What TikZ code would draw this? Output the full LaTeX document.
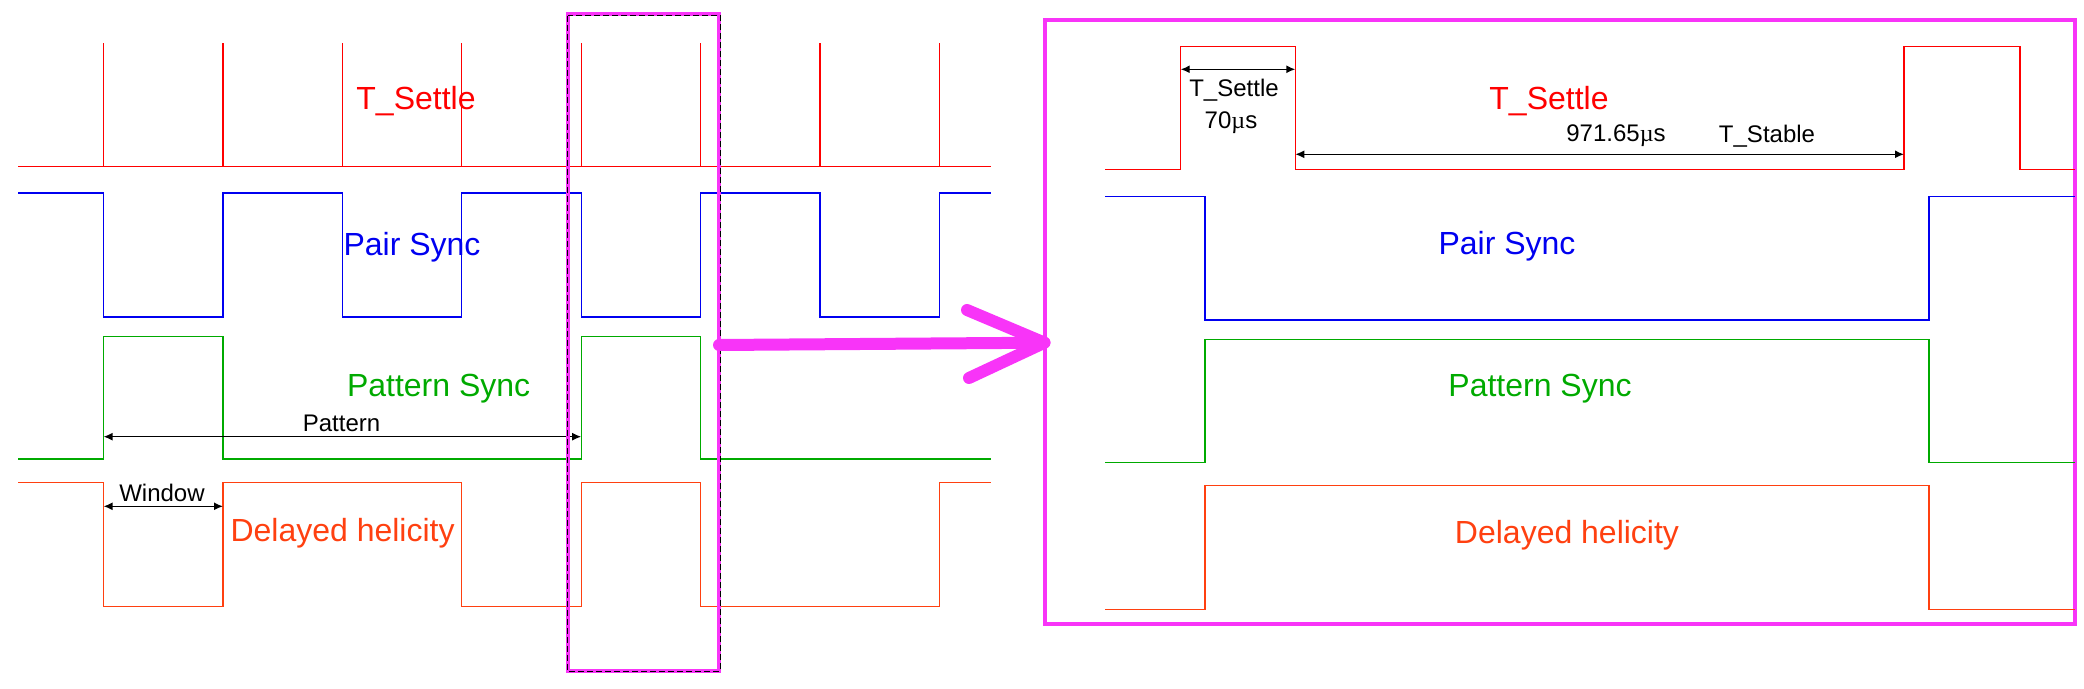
\documentclass[tikz,border=0pt]{standalone}
\usepackage{fontspec}
\setmainfont{Liberation Sans}
\newfontfamily\mufont{Liberation Serif}
\usetikzlibrary{arrows.meta}
\definecolor{sigred}{RGB}{255,0,0}
\definecolor{sigblue}{RGB}{0,0,240}
\definecolor{siggreen}{RGB}{0,170,0}
\definecolor{sigorange}{RGB}{255,64,16}
\definecolor{zoompink}{RGB}{248,52,248}
\begin{document}
\begin{tikzpicture}[x=0.5pt,y=-0.5pt,
  wave/.style={line width=0.6pt},
  biglabel/.style={font=\fontsize{16}{18}\selectfont, anchor=base, inner sep=0pt},
  smalllabel/.style={font=\fontsize{12}{14}\selectfont, anchor=base, inner sep=0pt},
  dim/.style={line width=0.7pt, {Latex[length=4.5pt,width=4pt]}-{Latex[length=4.5pt,width=4pt]}},
  pinkbox/.style={draw=zoompink, line width=2pt},
  selbox/.style={draw=black, line width=0.5pt, dash pattern=on 3pt off 1.5pt},
  bigarrow/.style={draw=zoompink, line width=6pt, line cap=round, line join=round}]
\useasboundingbox (0,0) rectangle (2084,689);

% ---------------- left panel ----------------
\draw[wave,sigred] (18,166.5) -- (991,166.5);
\foreach \x in {103.6,223,342.4,461.8,581.2,700.6,820,939.4}
  \draw[wave,sigred] (\x,166.5) -- (\x,43);
\draw[wave,sigblue] (18,193) -| (103.6,317) -| (223,193) -| (342.4,317) -| (461.8,193)
  -| (581.2,317) -| (700.6,193) -| (820,317) -| (939.4,193) -- (991,193);
\draw[wave,siggreen] (18,459) -| (103.6,336.5) -| (223,459) -| (581.2,336.5) -| (700.6,459) -- (991,459);
\draw[wave,sigorange] (18,482.5) -| (103.6,606.3) -| (223,482.5) -| (461.8,606.3) -| (581.2,482.5)
  -| (700.6,606.3) -| (939.4,482.5) -- (991,482.5);

\node[biglabel,text=sigred] (lts) at (416,110) {T\_Settle};
\node[biglabel,text=sigblue] (lps) at (412,256) {Pair Sync};
\node[biglabel,text=siggreen] (lpat) at (438.6,397) {Pattern Sync};
\node[biglabel,text=sigorange] (ldh) at (342.6,542) {Delayed helicity};

\coordinate (pa) at (103.6,436.7);
\coordinate (pb) at (581.2,436.7);
\draw[dim] (pa) -- (pb);
\node[smalllabel] (patlab) at (341.5,431.7) {Pattern};
\coordinate (wa) at (103.6,506.3);
\coordinate (wb) at (223,506.3);
\draw[dim] (wa) -- (wb);
\node[smalllabel] (winlab) at (162,501.7) {Window};

% selection box
\draw[pinkbox] (567.5,14.5) rectangle (719,671);
\draw[selbox] (567.7,15.7) rectangle (720.7,671);

% big pink arrow
\coordinate (zs) at (719,345);
\coordinate (zt) at (1044.5,342.7);
\coordinate (zb1) at (967,310);
\coordinate (zb2) at (969,378);
\draw[bigarrow] (zs) -- (zt);
\draw[bigarrow] (zb1) -- (zt) -- (zb2);

% ---------------- right panel ----------------
\draw[pinkbox] (1045,20) rectangle (2075,624);
\draw[wave,sigred] (1105,169.3) -| (1180.7,46.5) -| (1295.3,169.3) -| (1904,46.5) -| (2020,169.3) -- (2075,169.3);
\draw[wave,sigblue] (1105,196.7) -| (1205,320) -| (1929,196.7) -- (2075,196.7);
\draw[wave,siggreen] (1105,462.3) -| (1205,339.3) -| (1929,462.3) -- (2075,462.3);
\draw[wave,sigorange] (1105,609.3) -| (1205,485.3) -| (1929,609.3) -- (2075,609.3);

\node[biglabel,text=sigred] (rts) at (1549,110) {T\_Settle};
\node[biglabel,text=sigblue] (rps) at (1507,255) {Pair Sync};
\node[biglabel,text=siggreen] (rpat) at (1540,397) {Pattern Sync};
\node[biglabel,text=sigorange] (rdh) at (1567,544) {Delayed helicity};

\coordinate (ta) at (1180.7,69.3);
\coordinate (tb) at (1295.3,69.3);
\draw[dim] (ta) -- (tb);
\node[smalllabel] (tslab) at (1234,96.7) {T\_Settle};
\node[smalllabel] (tsval) at (1231,128.3) {70{\mufont µ}s};
\coordinate (sa) at (1295.3,154.3);
\coordinate (sb) at (1904,154.3);
\draw[dim] (sa) -- (sb);
\node[smalllabel] (stval) at (1616,141.7) {971.65{\mufont µ}s};
\node[smalllabel] (stlab) at (1767,143) {T\_Stable};
\end{tikzpicture}
\end{document}
